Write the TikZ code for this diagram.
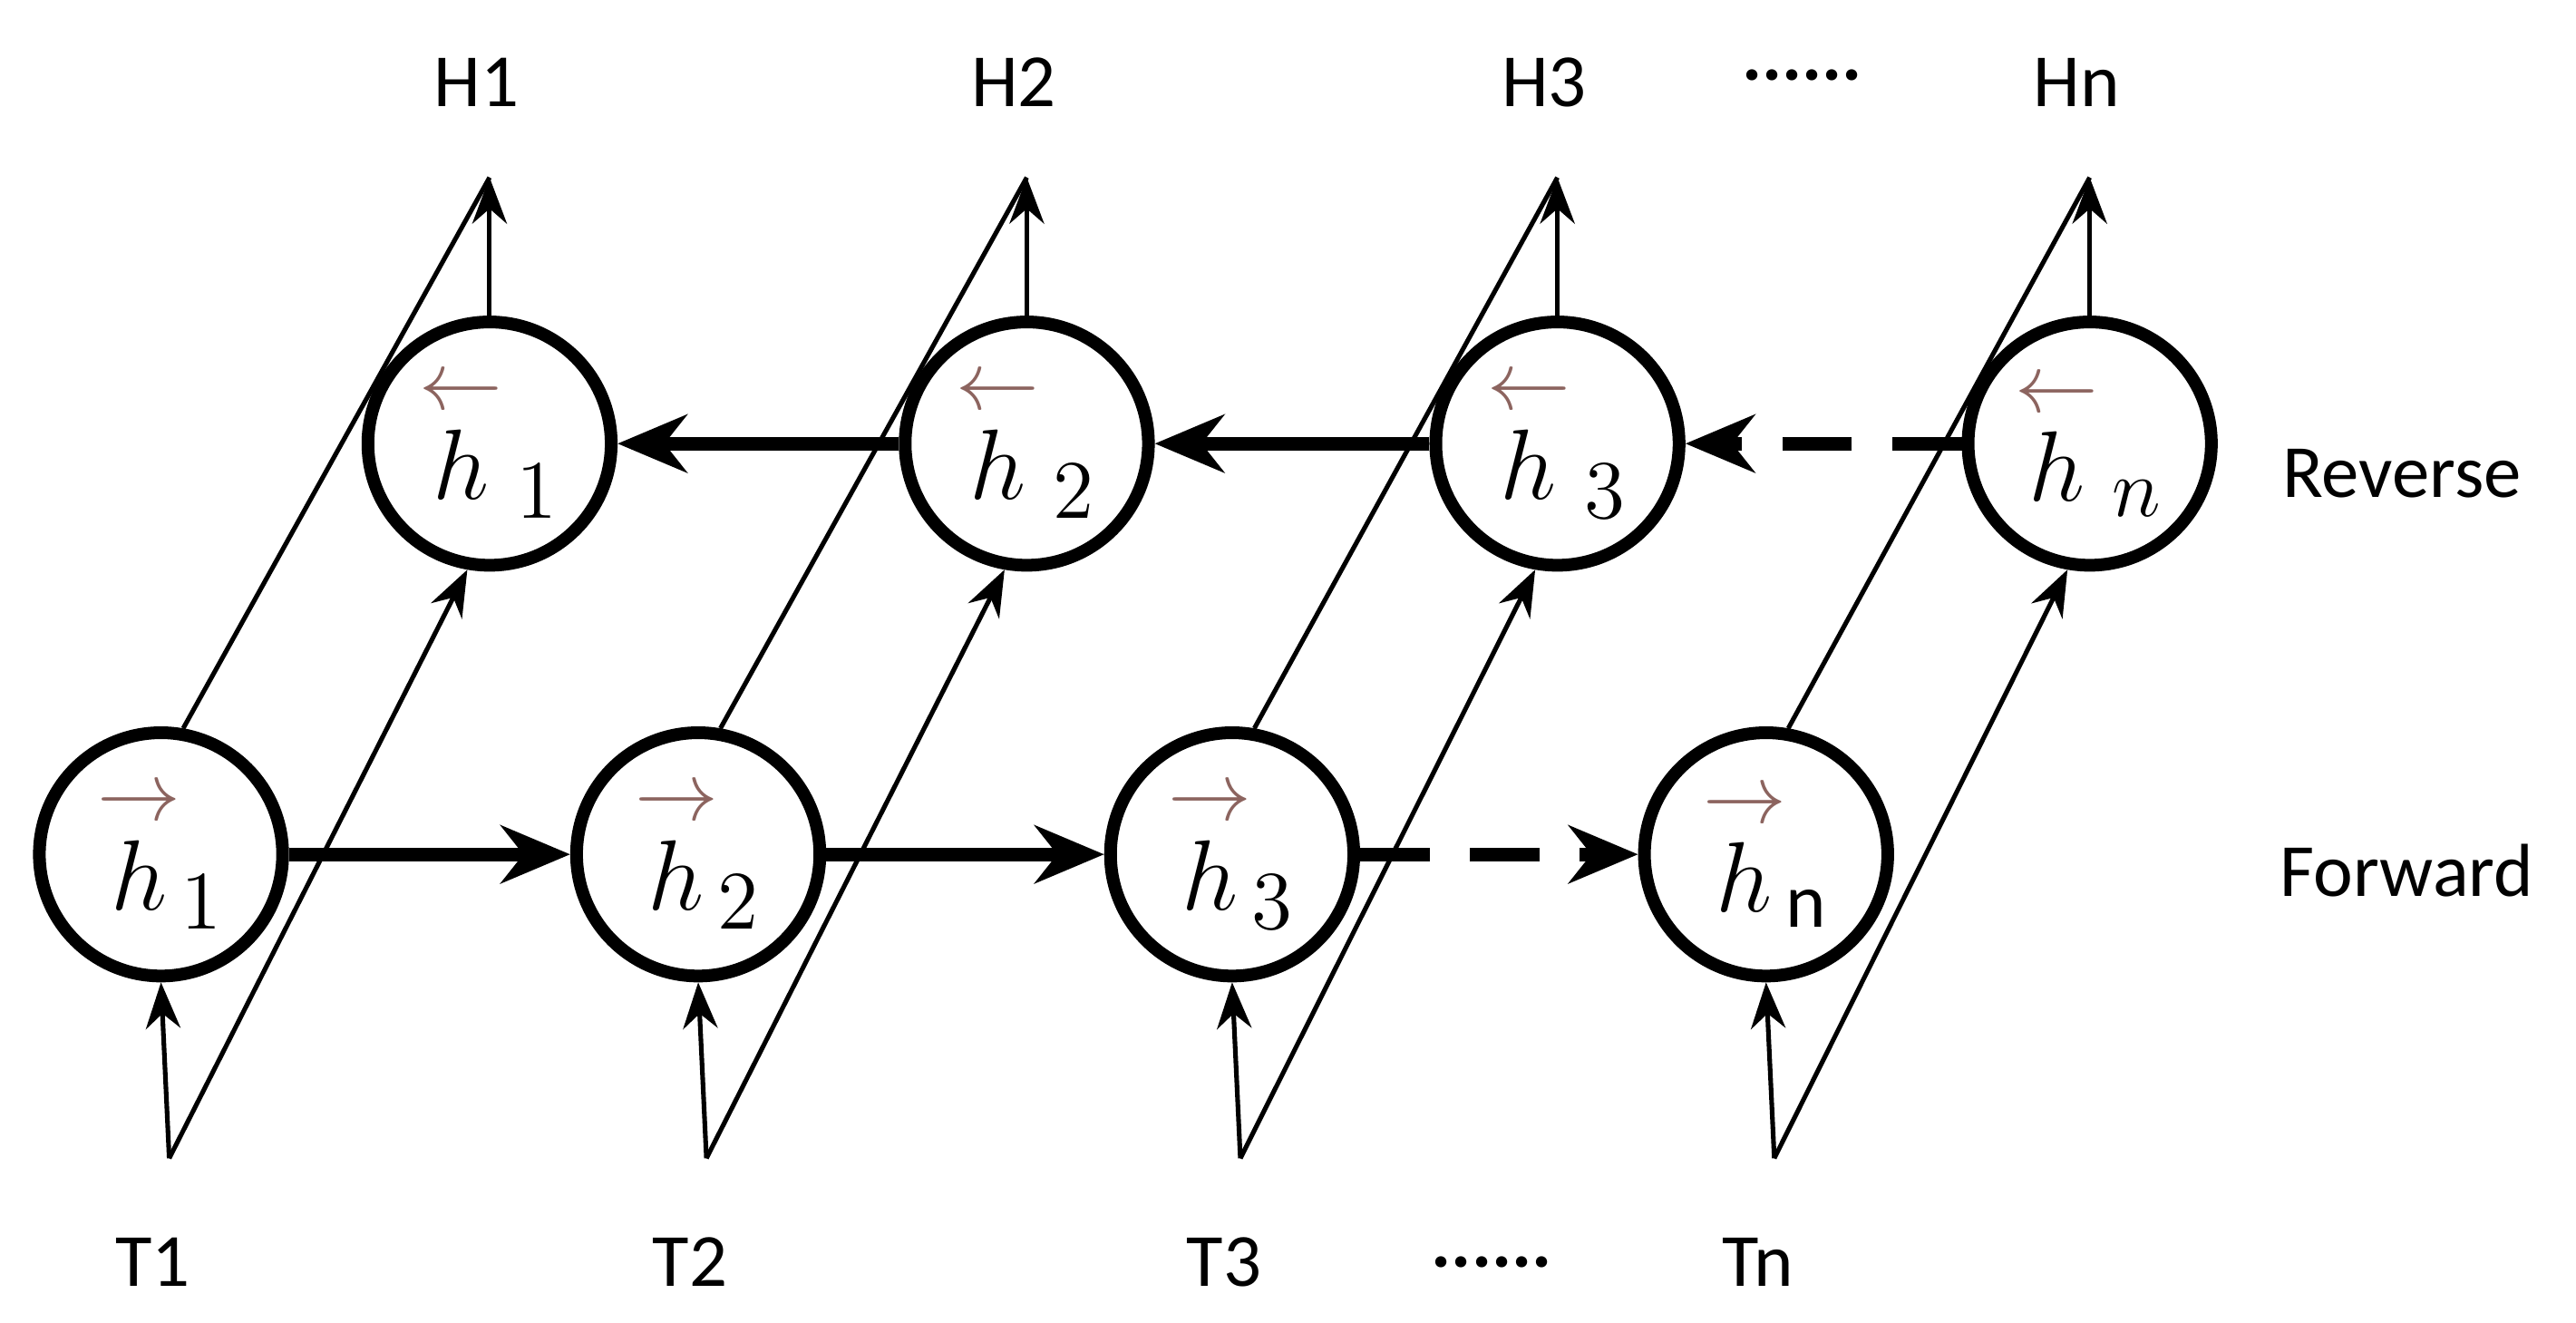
\documentclass[tikz,border=0pt]{standalone}
\usepackage{amsmath}
\usepackage{fontspec}
\setmainfont{Carlito}
\usetikzlibrary{arrows.meta}
\definecolor{arr}{RGB}{140,100,95}
\begin{document}
\begin{tikzpicture}[x=0.01cm,y=-0.01cm,
  cell/.style={circle,draw,line width=2.2pt,minimum size=1.48cm,inner sep=0pt,font=\fontsize{19}{20}\selectfont},
  lab/.style={font=\fontsize{13}{15}\selectfont},
  thinarr/.style={line width=0.8pt,-{Stealth[length=8pt,width=6pt]}},
  thickarr/.style={line width=2.4pt,-{Stealth[length=12pt,width=10pt]}},
  dasharr/.style={thickarr,dash pattern=on 12pt off 7pt}]
\useasboundingbox (0,0) rectangle (1568,805);
\newcommand{\fw}[1]{$\overset{\textcolor{arr}{\rightarrow}}{h}_{#1}$}
\newcommand{\bw}[1]{$\overset{\textcolor{arr}{\leftarrow}}{h}_{\,#1}$}
\node[cell] (f1) at (98,520) {\fw{1}};
\node[cell] (f2) at (425,520) {\fw{2}};
\node[cell] (f3) at (750,520) {\fw{3}};
\node[cell] (fn) at (1075,520) {\fw{\mathrm{n}}};
\node[cell] (r1) at (298,270) {\bw{1}};
\node[cell] (r2) at (625,270) {\bw{2}};
\node[cell] (r3) at (948,270) {\bw{3}};
\node[cell] (rn) at (1272,270) {\bw{n}};
\foreach \i/\x/\t in {1/98/T1,2/425/T2,3/750/T3,n/1075/Tn}{
  \node[lab] (t\i) at (\x-5,768) {\t};
  \coordinate (b\i) at (\x+5,705);
}
\foreach \i/\x/\t in {1/298/H1,2/625/H2,3/948/H3,n/1272/Hn}{
  \node[lab] (H\i) at (\x-8,50) {\t};
  \coordinate (h\i) at (\x,108);
}
\node[lab] (rev) at (1462,288) {Reverse};
\node[lab] (fwd) at (1465,530) {Forward};
\node[lab] (d1) at (908,768) {\textbf{......}};
\node[lab] (d2) at (1097,46) {\textbf{......}};
\foreach \i in {1,2,3,n}{
  \draw[thinarr] (b\i) -- (f\i.south);
  \draw[thinarr] (b\i) -- (r\i.-100);
  \draw[line width=0.8pt] (f\i.80) -- (h\i);
  \draw[thinarr] (r\i.north) -- (h\i);
}
\draw[thickarr] (f1) -- (f2);
\draw[thickarr] (f2) -- (f3);
\draw[dasharr] (f3) -- (fn);
\draw[thickarr] (r2) -- (r1);
\draw[thickarr] (r3) -- (r2);
\draw[dasharr] (rn) -- (r3);
\end{tikzpicture}
\end{document}
